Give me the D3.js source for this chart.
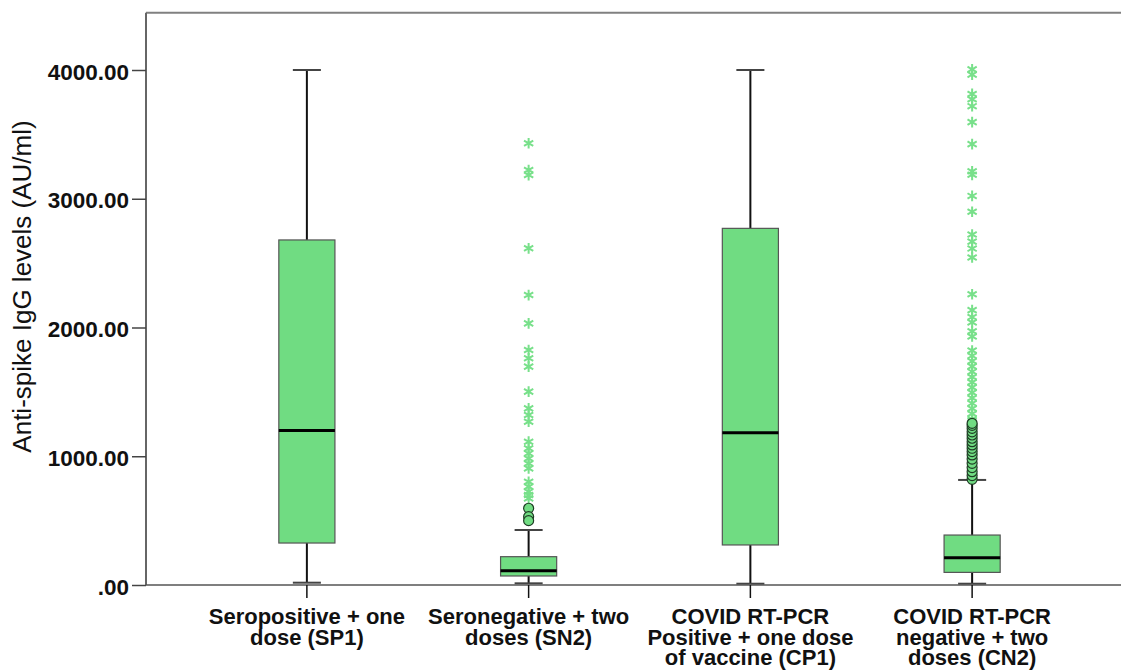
<!DOCTYPE html>
<html>
<head>
<meta charset="utf-8">
<script src="https://cdn.jsdelivr.net/npm/d3@7"></script>
<style>
  body { margin: 0; background: #fff; }
  text { font-family: "Liberation Sans", Arial, sans-serif; }
</style>
</head>
<body>
<div id="chart"></div>
<script>
// data
const categories = ["SP1", "SN2", "CP1", "CN2"];
const catLabels = [
    ["Seropositive + one", "dose (SP1)"],
    ["Seronegative + two", "doses (SN2)"],
    ["COVID RT-PCR", "Positive + one dose", "of vaccine (CP1)"],
    ["COVID RT-PCR", "negative + two", "doses (CN2)"]
];
const whiskerLow = [18, 13, 10, 10];
const q1 = [326, 70, 311, 98];
const median = [1200, 111, 1183, 212];
const q3 = [2680, 220, 2770, 388];
const whiskerHigh = [4000, 427, 4000, 816];
const yTicks = [0, 1000, 2000, 3000, 4000];

// outliers (circles) and extremes (stars)
const sn2Circles = [596, 531, 500];
const sn2Stars = [3431, 3223, 3184, 2615, 2252, 2032, 1825, 1761, 1696, 1502, 1372, 1320, 1268,
    1113, 1061, 1022, 983, 944, 906, 802, 764, 725, 699, 673];
const cn2Circles = [821, 850, 880, 912, 945, 978, 1010, 1036, 1062, 1088, 1113, 1140, 1165,
    1190, 1217, 1240, 1256];
const cn2Stars = [4005, 3964, 3814, 3773, 3719, 3595, 3424, 3213, 3186, 3022, 2899, 2722, 2667,
    2613, 2544, 2258, 2135, 2081, 2040, 1971, 1930, 1821, 1780, 1739, 1698, 1657, 1616, 1575,
    1535, 1494, 1452, 1411, 1371, 1330, 1289, 1275];
const circles = [[], sn2Circles, [], cn2Circles];
const stars = [[], sn2Stars, [], cn2Stars];

const width = 1121, height = 672;
const green = "#70dc82";

const svg = d3.select("#chart").append("svg")
    .attr("width", width)
    .attr("height", height);

const x = d3.scaleBand().domain(categories).range([196, 1083]).paddingInner(0.747).paddingOuter(0.3735);
const y = d3.scaleLinear().domain([0, 4000]).range([585, 70]);
const yTop = y(4445);
const left = 146;

// frame top line
svg.append("line")
    .attr("x1", left).attr("x2", width)
    .attr("y1", yTop).attr("y2", yTop)
    .attr("stroke", "#808080").attr("stroke-width", 2);

// y axis
const yAxis = svg.append("g")
    .attr("transform", `translate(${left},0)`)
    .call(d3.axisLeft(y).tickValues(yTicks).tickSize(14).tickPadding(3)
        .tickFormat(d => d3.format(".2f")(d).replace(/^0/, "")));
yAxis.select(".domain").attr("d", `M0,${y(0)}V${yTop}`).attr("stroke", "#666").attr("stroke-width", 2);
yAxis.selectAll(".tick line").attr("stroke", "#444").attr("stroke-width", 1.5);
yAxis.selectAll(".tick text")
    .attr("dy", "0.4em")
    .style("font-size", "22.5px").style("font-weight", "bold").attr("fill", "#111");

// y title
svg.append("text")
    .attr("transform", `translate(31,${(118 + 455) / 2}) rotate(-90)`)
    .attr("text-anchor", "middle")
    .style("font-size", "26px")
    .attr("fill", "#111")
    .text("Anti-spike IgG levels (AU/ml)");

// boxes
const bw = x.bandwidth();
const capW = bw / 2;
const g = svg.append("g");
categories.forEach((c, i) => {
    const cx = x(c) + bw / 2;
    // whiskers
    g.append("line").attr("x1", cx).attr("x2", cx).attr("y1", y(q3[i])).attr("y2", y(whiskerHigh[i]))
        .attr("stroke", "#111").attr("stroke-width", 2);
    g.append("line").attr("x1", cx).attr("x2", cx).attr("y1", y(q1[i])).attr("y2", y(whiskerLow[i]))
        .attr("stroke", "#111").attr("stroke-width", 2);
    [whiskerHigh[i], whiskerLow[i]].forEach(v => {
        g.append("line").attr("x1", cx - capW / 2).attr("x2", cx + capW / 2)
            .attr("y1", y(v)).attr("y2", y(v))
            .attr("stroke", "#444").attr("stroke-width", 2);
    });
    g.append("rect")
        .attr("x", x(c)).attr("width", bw)
        .attr("y", y(q3[i])).attr("height", y(q1[i]) - y(q3[i]))
        .attr("fill", green).attr("stroke", "#555").attr("stroke-width", 1.2);
    g.append("line").attr("x1", x(c)).attr("x2", x(c) + bw)
        .attr("y1", y(median[i])).attr("y2", y(median[i]))
        .attr("stroke", "#000").attr("stroke-width", 3);

    // extremes
    g.selectAll(null).data(stars[i]).enter().append("path")
        .attr("d", d3.symbol(d3.symbolAsterisk, 80))
        .attr("transform", d => `translate(${cx},${y(d)})`)
        .attr("fill", "none").attr("stroke", "#78e08a").attr("stroke-width", 2);
    // outliers
    g.selectAll(null).data(circles[i]).enter().append("circle")
        .attr("cx", cx).attr("cy", d => y(d)).attr("r", 5)
        .attr("fill", green).attr("stroke", "#1f3d25").attr("stroke-width", 1.2);
});

// x axis
const xAxis = svg.append("g")
    .attr("transform", `translate(0,${y(0)})`)
    .call(d3.axisBottom(x).tickSize(13).tickSizeOuter(0));
xAxis.select(".domain").attr("d", `M${left},0H${width}`).attr("stroke", "#555").attr("stroke-width", 1.5);
xAxis.selectAll(".tick line").attr("stroke", "#111").attr("stroke-width", 1.5);
xAxis.selectAll(".tick text").each(function (d, i) {
    const t = d3.select(this).text(null).attr("y", 39).attr("dy", null)
        .style("font-size", "22px").style("font-weight", "bold").attr("fill", "#111");
    catLabels[i].forEach((line, k) => {
        t.append("tspan").attr("x", 0).attr("y", 39 + k * 20.5).text(line);
    });
});
</script>
</body>
</html>
